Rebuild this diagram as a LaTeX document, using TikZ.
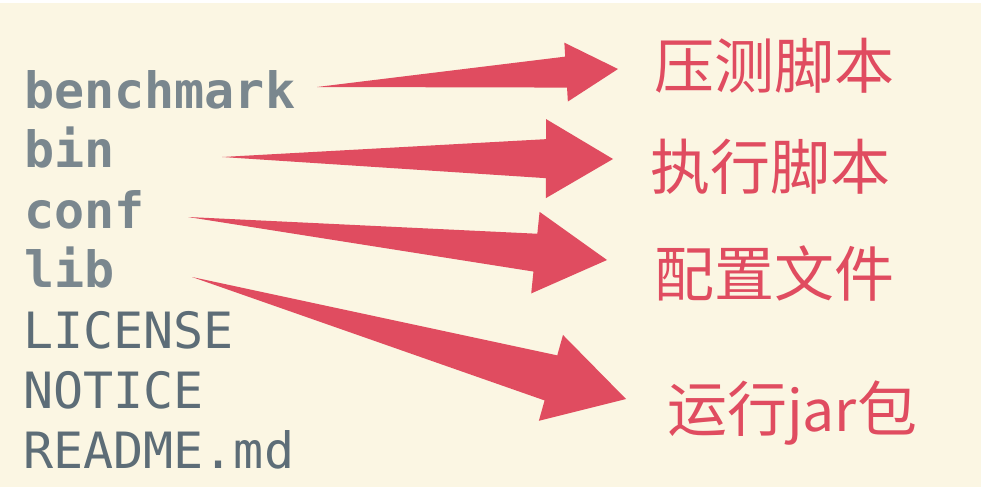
\documentclass[tikz,border=0pt]{standalone}
\usepackage{fontspec}
\setmonofont{DejaVu Sans Mono}
\newfontfamily\cjk{Noto Sans CJK SC}
\usetikzlibrary{calc}
\definecolor{bg}{HTML}{FBF6E3}
\definecolor{arrred}{HTML}{E04C60}
\definecolor{boldgrey}{HTML}{7A878E}
\definecolor{txtgrey}{HTML}{5D6D77}
\newcommand\taperarrow[5]{% tail, tip, shaft half-width, head half-width, head length
  \path ($(#2)!#5!(#1)$) coordinate (hb);
  \fill[arrred] (#1) -- ($(hb)!#3!90:(#2)$) -- ($(hb)!#4!90:(#2)$) -- (#2)
    -- ($(hb)!#4!-90:(#2)$) -- ($(hb)!#3!-90:(#2)$) -- cycle;
}
\begin{document}
\begin{tikzpicture}[x=1pt,y=-1pt,
  file/.style={anchor=base west, inner sep=0pt, font=\fontsize{50}{50}\selectfont\ttfamily, text=txtgrey},
  dirname/.style={anchor=base west, inner sep=0pt, font=\fontsize{50}{50}\selectfont\ttfamily\bfseries, text=boldgrey},
  lbl/.style={anchor=base west, inner sep=0pt, font=\fontsize{60}{60}\selectfont\cjk, text=arrred}]
\fill[bg] (0,0) rectangle (981,487);
\fill[white] (0,0) rectangle (981,3);
\useasboundingbox (0,0) rectangle (981,487);

\node[dirname] (bench) at (24,108) {benchmark};
\node[dirname] (bin)   at (24,167) {bin};
\node[dirname] (conf)  at (24,228) {conf};
\node[dirname] (lib)   at (24,287) {lib};
\node[file] (lic) at (23,348) {LICENSE};
\node[file] (not) at (23,408) {NOTICE};
\node[file] (rd)  at (23,468) {README.md};

\node[lbl] (l1) at (654,88)  {压测脚本};
\node[lbl] (l2) at (650,189) {执行脚本};
\node[lbl] (l3) at (654,296) {配置文件};
\node[lbl] (l4) at (667,431) {运行\fontsize{57}{57}\selectfont jar\fontsize{60}{60}\selectfont 包};

\coordinate (t1) at (317,87);  \coordinate (p1) at (618,69);
\coordinate (t2) at (222,157); \coordinate (p2) at (613,159);
\coordinate (t3) at (188,217); \coordinate (p3) at (607,260);
\coordinate (t4) at (192,277); \coordinate (p4) at (626,399);

\taperarrow{t1}{p1}{15.5pt}{29.5pt}{52pt}
\taperarrow{t2}{p2}{19.5pt}{39.5pt}{67pt}
\taperarrow{t3}{p3}{19pt}{41pt}{72pt}
\taperarrow{t4}{p4}{23.4pt}{44.6pt}{78pt}
\end{tikzpicture}
\end{document}
